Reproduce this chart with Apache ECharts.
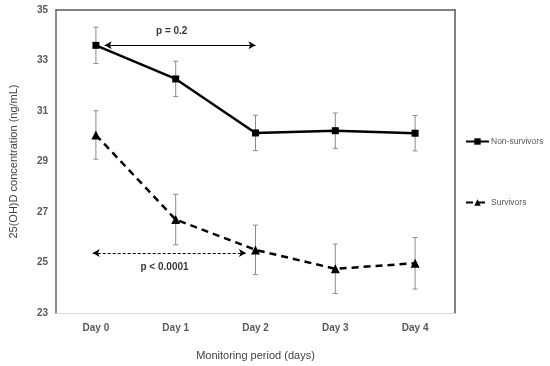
<!DOCTYPE html>
<html><head><meta charset="utf-8">
<script src="https://cdn.jsdelivr.net/npm/echarts@6/dist/echarts.min.js"></script>
<style>html,body{margin:0;padding:0;background:#fff}#c{width:550px;height:366px}</style>
</head><body><div id="c"></div>
<script>
const categories = ['Day 0','Day 1','Day 2','Day 3','Day 4'];
const yTicks = {min: 23, max: 35, interval: 2};
const nonSurvivors = [33.6, 32.27, 30.13, 30.22, 30.12];
const nonSurvivorsErr = [0.72, 0.7, 0.7, 0.7, 0.7];
const survivors = [30.05, 26.7, 25.5, 24.75, 24.97];
const survivorsErr = [0.96, 1.0, 0.98, 0.98, 1.02];
const arrow1 = {from: 0.11, to: 2.0, y: 33.6, text: 'p = 0.2', tx: 0.95, ty: 34.14};
const arrow2 = {from: -0.04, to: 1.88, y: 25.38, text: 'p < 0.0001', tx: 0.86, ty: 24.8};

const chart = echarts.init(document.getElementById('c'));
function errSeries(vals, errs) {
  return {
    type: 'custom', silent: true, z: 1,
    data: vals.map((v, i) => [i, v - errs[i], v + errs[i]]),
    renderItem: function (params, api) {
      const lo = api.coord([api.value(0), api.value(1)]);
      const hi = api.coord([api.value(0), api.value(2)]);
      const w = 2.5;
      const st = {stroke: '#8c8c8c', lineWidth: 1};
      return {type: 'group', children: [
        {type: 'line', shape: {x1: lo[0], y1: lo[1], x2: hi[0], y2: hi[1]}, style: st},
        {type: 'line', shape: {x1: lo[0]-w, y1: lo[1], x2: lo[0]+w, y2: lo[1]}, style: st},
        {type: 'line', shape: {x1: hi[0]-w, y1: hi[1], x2: hi[0]+w, y2: hi[1]}, style: st}
      ]};
    }
  };
}
const font = '"Liberation Sans", Arial, sans-serif';
chart.setOption({
  animation: false,
  grid: {left: 54, right: 95, top: 10, bottom: 48},
  legend: {
    orient: 'vertical', left: 465, top: 137, itemGap: 52, padding: 0,
    itemWidth: 23, itemHeight: 8,
    textStyle: {fontFamily: font, fontSize: 8.5, color: '#595959', padding: [0,0,0,-3]},
    data: ['Non-survivors', 'Survivors']
  },
  xAxis: [{
    type: 'category', data: categories, boundaryGap: true,
    axisLine: {onZero: false, lineStyle: {color: '#d9d9d9', width: 1}},
    axisTick: {show: false},
    axisLabel: {fontFamily: font, fontSize: 10, fontWeight: 'bold', color: '#595959', margin: 10},
    name: 'Monitoring period (days)', nameLocation: 'middle', nameGap: 37,
    nameTextStyle: {fontFamily: font, fontSize: 11, color: '#404040'}
  }, {
    type: 'value', position: 'top', min: -0.5, max: 4.5,
    axisLine: {show: true, onZero: false, lineStyle: {color: '#595959', width: 1.5}},
    axisTick: {show: false}, axisLabel: {show: false}, splitLine: {show: false}
  }],
  yAxis: [{
    type: 'value', min: yTicks.min, max: yTicks.max, interval: yTicks.interval,
    axisLine: {show: true, onZero: false, lineStyle: {color: '#8c8c8c', width: 2}},
    axisTick: {show: false}, splitLine: {show: false},
    axisLabel: {fontFamily: font, fontSize: 10, fontWeight: 'bold', color: '#595959', margin: 8},
    name: '25(OH)D concentration (ng/mL)', nameLocation: 'middle', nameGap: 37,
    nameTextStyle: {fontFamily: font, fontSize: 11, color: '#404040'}
  }, {
    type: 'value', position: 'right', min: yTicks.min, max: yTicks.max, interval: yTicks.interval,
    axisLine: {show: true, onZero: false, lineStyle: {color: '#595959', width: 1.5}},
    axisTick: {show: false}, axisLabel: {show: false}, splitLine: {show: false}
  }],
  series: [
    errSeries(nonSurvivors, nonSurvivorsErr),
    errSeries(survivors, survivorsErr),
    {
      name: 'Non-survivors', type: 'line', data: nonSurvivors, z: 3,
      symbol: 'rect', symbolSize: 7,
      lineStyle: {color: '#000', width: 2.5}, itemStyle: {color: '#000'}
    },
    {
      name: 'Survivors', type: 'line', data: survivors, z: 3,
      symbol: 'triangle', symbolSize: 9,
      lineStyle: {color: '#000', width: 2.5, type: [7, 5]}, itemStyle: {color: '#000'}
    },
    {
      type: 'scatter', xAxisIndex: 1, yAxisIndex: 0, symbolSize: 0, silent: true,
      data: [[arrow1.tx, arrow1.ty, arrow1.text], [arrow2.tx, arrow2.ty, arrow2.text]],
      label: {show: true, position: 'inside', formatter: p => p.data[2],
        fontFamily: font, fontSize: 10, fontWeight: 'bold', color: '#000'},
      markLine: {
        silent: true, symbol: ['arrow', 'arrow'], symbolSize: [6, 7],
        label: {show: false},
        data: [
          [{coord: [arrow1.from, arrow1.y], lineStyle: {color: '#000', width: 1, type: 'solid'}},
           {coord: [arrow1.to, arrow1.y]}],
          [{coord: [arrow2.from, arrow2.y], lineStyle: {color: '#000', width: 1, type: [3, 2]}},
           {coord: [arrow2.to, arrow2.y]}]
        ]
      }
    }
  ]
});
</script></body></html>
